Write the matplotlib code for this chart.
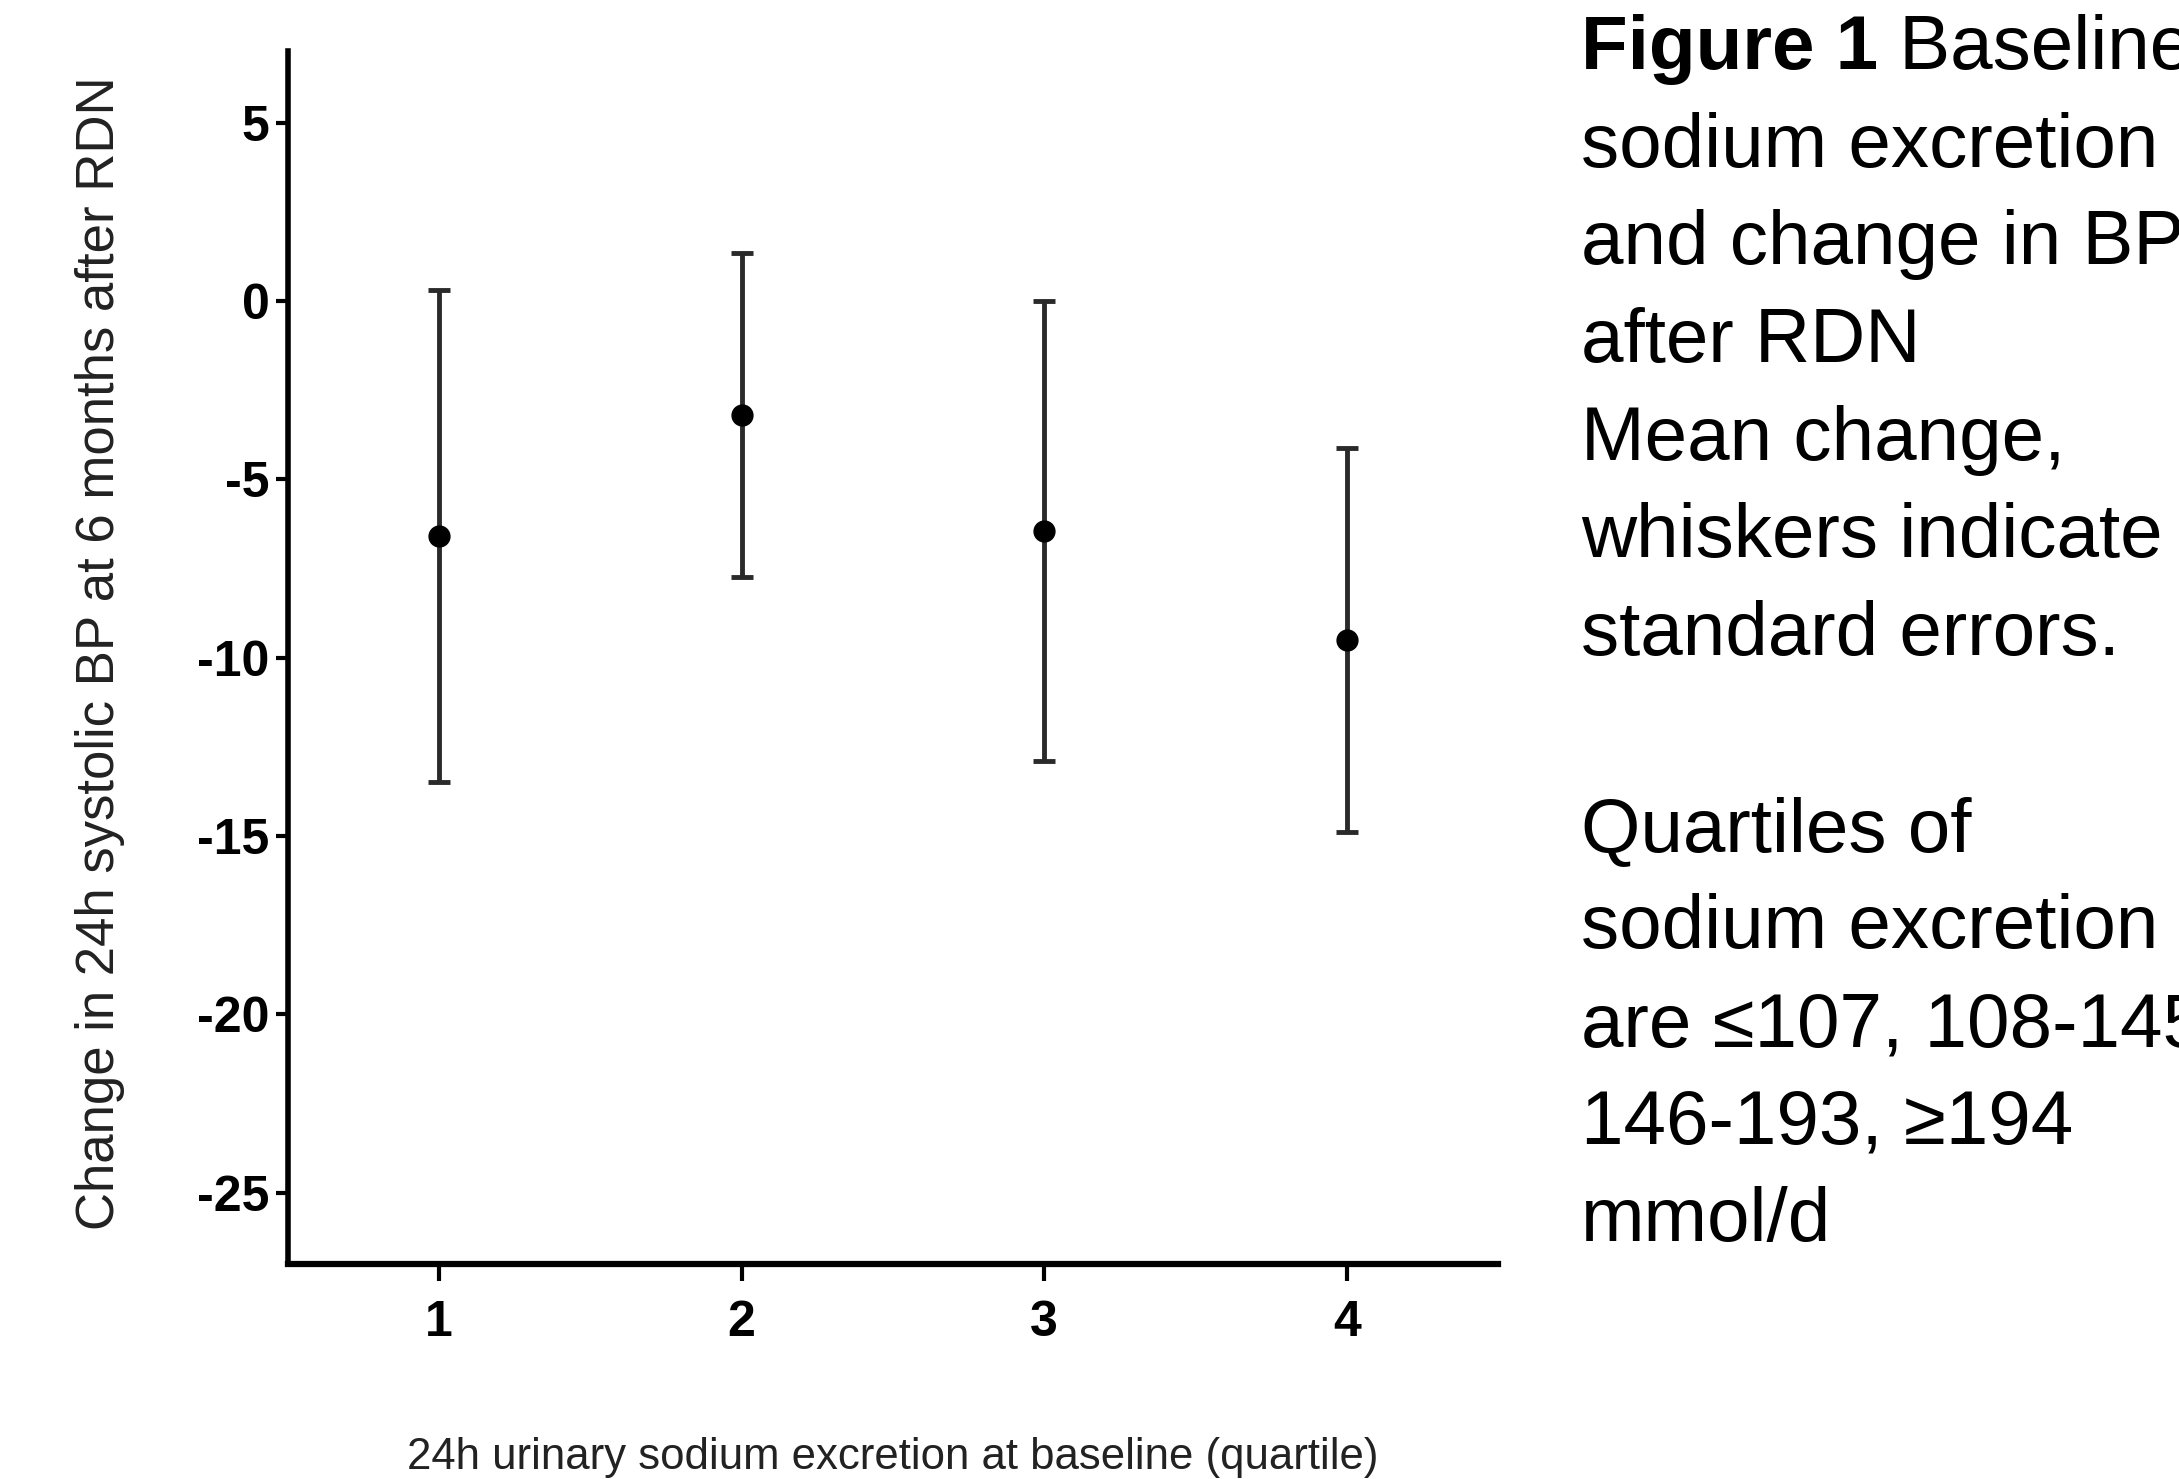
import matplotlib
matplotlib.use("Agg")
import matplotlib.pyplot as plt
from matplotlib import font_manager

# quartile means and standard errors
quartiles = [1, 2, 3, 4]
mean_change = [-6.6, -3.2, -6.45, -9.5]
std_err = [6.9, 4.55, 6.45, 5.38]
ytick_vals = [5, 0, -5, -10, -15, -20, -25]

ylabel = "Change in 24h systolic BP at 6 months after RDN"
xlabel = "24h urinary sodium excretion at baseline (quartile)"
caption_lines = [
    None,  # first line drawn separately (bold part)
    "sodium excretion",
    "and change in BP",
    "after RDN",
    "Mean change,",
    "whiskers indicate",
    "standard errors.",
    "",
    "Quartiles of",
    "sodium excretion",
    "are \u2264107, 108-145,",
    "146-193, \u2265194",
    "mmol/d",
]

plt.rcParams['axes.unicode_minus'] = False
names = {f.name for f in font_manager.fontManager.ttflist}
narrow = "Liberation Sans Narrow" if "Liberation Sans Narrow" in names else "Liberation Sans"
sans = ["Liberation Sans", "DejaVu Sans"]

W, H = 2179, 1479
fig = plt.figure(figsize=(W / 100, H / 100), dpi=100)
ax = fig.add_axes([287.7 / W, 1 - 1264 / H, (1498 - 287.7) / W, (1264 - 51.2) / H])

ax.errorbar(quartiles, mean_change, yerr=std_err, fmt='o', color='black',
            ecolor='#2a2a2a', elinewidth=3.5, capsize=8, capthick=3.5,
            markersize=15, zorder=3)

ax.set_xlim(0.5, 4.5)
ax.set_ylim(-27, 7)
for s in ['top', 'right']:
    ax.spines[s].set_visible(False)
ax.spines['left'].set_linewidth(4)
ax.spines['bottom'].set_linewidth(4.5)

ax.set_xticks(quartiles)
ax.set_yticks(ytick_vals)
ax.tick_params(axis='y', direction='out', length=9, width=3, pad=4, colors='black')
ax.tick_params(axis='x', direction='out', length=12, width=3, pad=14, colors='black')
for lab in ax.get_xticklabels() + ax.get_yticklabels():
    lab.set_fontfamily(narrow)
    lab.set_fontweight('bold')
    lab.set_fontsize(36)

fig.text(100 / W, 1 - 653 / H, ylabel, rotation=90, ha='center', va='center',
         fontsize=38, family=sans, color='#222222')
fig.text(893 / W, 1 - 1437 / H, xlabel, ha='center', va='top',
         fontsize=31.5, family=narrow, color='#222222')

# caption on the right
x0 = 1581 / W
base0 = 69
step = 97.7
t = fig.text(x0, 1 - base0 / H, "Figure 1", fontsize=55, family=sans,
             fontweight='bold', va='baseline', ha='left')
fig.canvas.draw()
bb = t.get_window_extent()
fig.text(bb.x1 / W, 1 - base0 / H, " Baseline", fontsize=55, family=sans,
         va='baseline', ha='left')
for i, line in enumerate(caption_lines):
    if not line:
        continue
    fig.text(x0, 1 - (base0 + i * step) / H, line, fontsize=55, family=sans,
             va='baseline', ha='left')

fig.savefig("out.png", dpi=100)
